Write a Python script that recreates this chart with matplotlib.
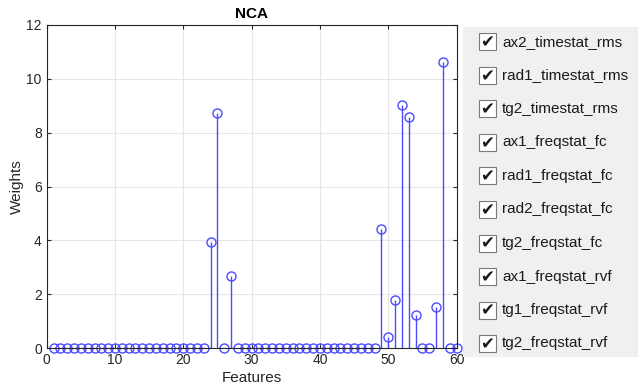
import numpy as np
import matplotlib
matplotlib.use("Agg")
from matplotlib import pyplot as plt
from matplotlib.patches import Rectangle

plt.rcParams['font.family'] = ['Liberation Sans', 'DejaVu Sans']

# Feature weights (features 1..60)
features = np.arange(1, 61)
nonzero = {24: 3.92, 25: 8.72, 27: 2.68, 49: 4.41, 50: 0.40, 51: 1.77,
           52: 9.02, 53: 8.57, 54: 1.24, 57: 1.53, 58: 10.62}
weights = np.array([nonzero.get(f, 0.0) for f in features])

# Names in the checkbox list
feature_names = ["ax2_timestat_rms", "rad1_timestat_rms", "tg2_timestat_rms",
                 "ax1_freqstat_fc", "rad1_freqstat_fc", "rad2_freqstat_fc",
                 "tg2_freqstat_fc", "ax1_freqstat_rvf", "tg1_freqstat_rvf",
                 "tg2_freqstat_rvf"]

fig = plt.figure(figsize=(6.38, 3.86), dpi=100)
W, H = 638, 386
ax = fig.add_axes([46.7 / W, 1 - 348 / H, (456.5 - 46.7) / W, (348 - 25) / H])

blue = '#4c4cff'
markerline, stemlines, baseline = ax.stem(features, weights, basefmt=' ')
plt.setp(stemlines, color=blue, linewidth=1.0)
plt.setp(markerline, marker='o', markersize=6.5, markerfacecolor='none',
         markeredgecolor=blue, markeredgewidth=1.0, clip_on=False)

ax.set_xlim(0, 60)
ax.set_ylim(0, 12)
ax.set_xticks(np.arange(0, 61, 10))
ax.set_yticks(np.arange(0, 13, 2))
ax.grid(True, color='#e6e6e6', linewidth=0.8)
ax.set_axisbelow(True)
for s in ax.spines.values():
    s.set_color('#262626')
    s.set_linewidth(0.8)
ax.tick_params(direction='in', length=3, colors='#262626', labelsize=10,
               top=True, right=True, labeltop=False, labelright=False)
ax.set_xlabel('Features', fontsize=11, color='#262626', labelpad=3)
ax.set_ylabel('Weights', fontsize=11, color='#262626', labelpad=2)
ax.set_title('NCA', fontsize=11, fontweight='bold', pad=5)

# Checkbox panel on the right
panel = fig.add_axes([463 / W, 1 - 357 / H, (638 - 463) / W, (357 - 27) / H])
panel.set_xlim(0, 175)
panel.set_ylim(330, 0)
panel.axis('off')
panel.add_patch(Rectangle((0, 0), 175, 330, facecolor='#f0f0f0', edgecolor='none'))
for i, name in enumerate(feature_names):
    yc = 15 + i * 33.5
    panel.add_patch(Rectangle((16, yc - 8.5), 17, 17, facecolor='white',
                              edgecolor='#7a7a7a', linewidth=0.8))
    panel.text(24.5, yc + 0.5, '\u2714', fontsize=12, ha='center', va='center',
               family=['DejaVu Sans'], color='#1a1a1a')
    panel.text(39, yc, name, fontsize=11, ha='left', va='center', color='#1a1a1a')

fig.savefig('out.png', dpi=100)
